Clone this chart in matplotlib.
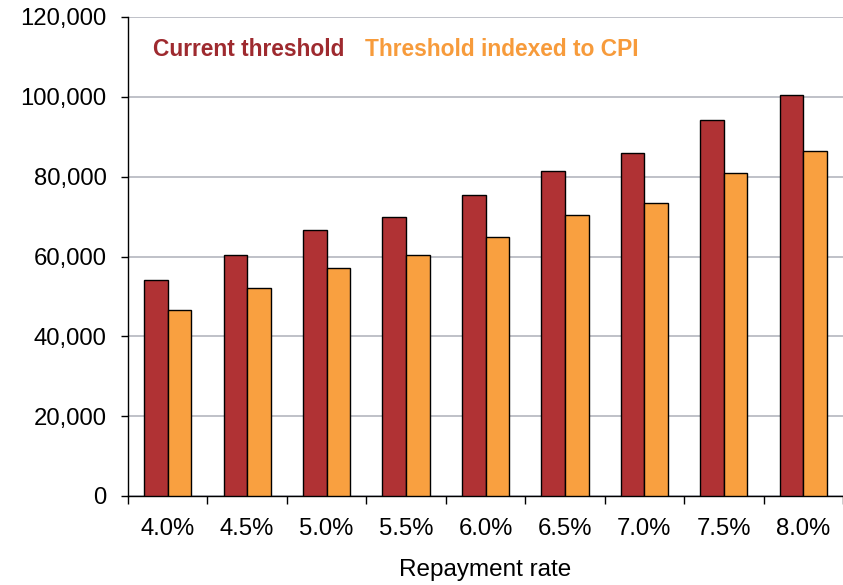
import matplotlib
matplotlib.use("Agg")
import matplotlib.pyplot as plt
import numpy as np
from matplotlib.ticker import FuncFormatter, FixedLocator

categories = ["4.0%", "4.5%", "5.0%", "5.5%", "6.0%", "6.5%", "7.0%", "7.5%", "8.0%"]
current = [54100, 60400, 66600, 69950, 75350, 81450, 85950, 94300, 100550]
indexed = [46600, 52100, 57100, 60400, 64900, 70400, 73500, 81000, 86430]
series_names = ["Current threshold", "Threshold indexed to CPI"]

plt.rcParams['font.family'] = ['Liberation Sans', 'DejaVu Sans']

fig = plt.figure(figsize=(8.43, 5.85), dpi=100)
ax = fig.add_axes([128/843, 89/585, 1 - 128/843, (496-17)/585])

x = np.arange(len(categories))
w = 0.297
red = "#B03234"
orange = "#F9A040"
ax.bar(x - w/2, current, w, color=red, edgecolor="black", linewidth=1.0, zorder=3)
ax.bar(x + w/2, indexed, w, color=orange, edgecolor="black", linewidth=1.0, zorder=3)

ax.set_xlim(-0.5, len(categories) - 0.5)
ax.set_ylim(0, 120000)
ax.set_yticks(np.arange(0, 120001, 20000))
ax.yaxis.set_major_formatter(FuncFormatter(lambda v, p: f"{int(v):,}"))
ax.yaxis.grid(True, color="#b4b6bf", linewidth=1.2, zorder=0)
ax.set_axisbelow(True)

fs = 17.2
ax.xaxis.set_major_locator(FixedLocator(np.arange(-0.5, len(categories), 1.0)))
ax.xaxis.set_major_formatter(FuncFormatter(lambda v, p: ""))
ax.xaxis.set_minor_locator(FixedLocator(x))
ax.set_xticklabels(categories, minor=True)
ax.tick_params(axis='x', which='minor', length=0, pad=15.5, labelsize=fs)
ax.tick_params(axis='x', which='major', length=6, width=1, direction='out')
ax.tick_params(axis='y', length=5, width=1, direction='out', pad=10.5, labelsize=fs)

for s in ["top", "right"]:
    ax.spines[s].set_visible(False)
ax.spines["left"].set_linewidth(1.0)
ax.spines["bottom"].set_linewidth(1.0)

ax.set_xlabel("Repayment rate", fontsize=fs + 0.3, labelpad=14)

fig.text(153/843, 1 - 56/585, series_names[0], color="#9E2A2F", fontsize=16.4, fontweight="bold", ha="left", va="baseline")
fig.text(365/843, 1 - 56/585, series_names[1], color="#F79B3B", fontsize=16.4, fontweight="bold", ha="left", va="baseline")

fig.savefig("out.png", dpi=100)
